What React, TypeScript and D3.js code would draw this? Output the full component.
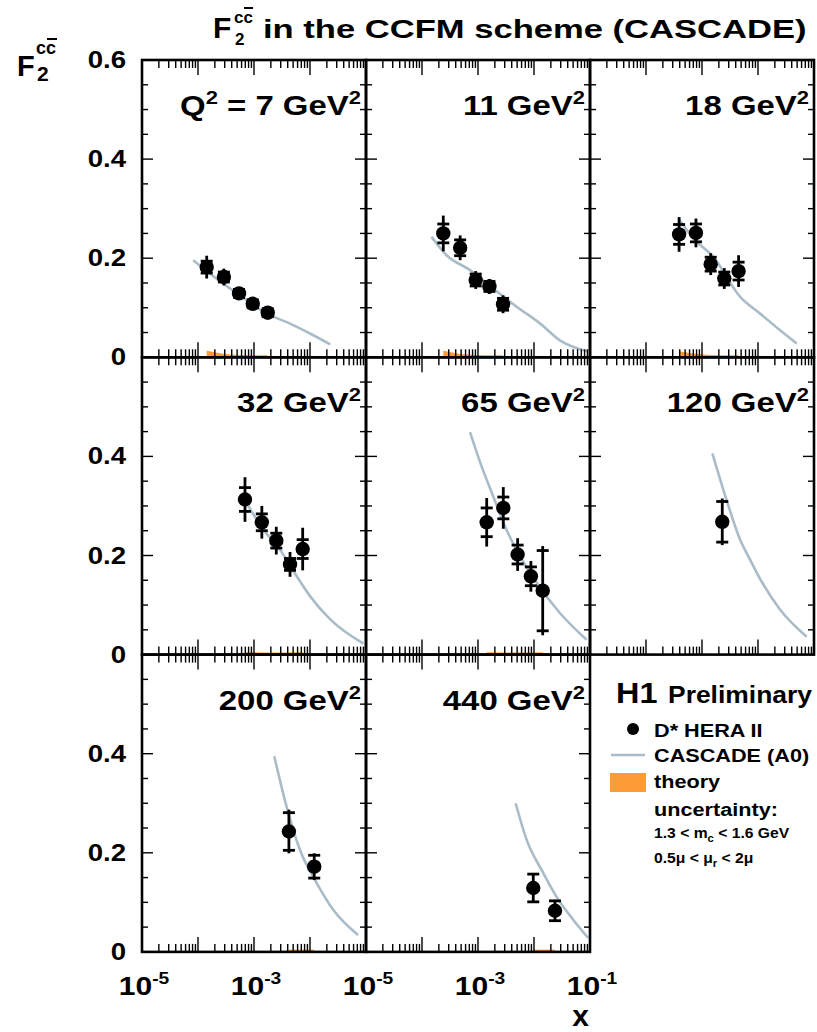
import * as React from "react";
import * as d3 from "d3";

// Q^2 values shown in the panel labels
const q2Labels = ["7", "11", "18", "32", "65", "120", "200", "440"];

// D* HERA II data points, one array per panel
const dataX: number[][] = [
  [1.43e-4, 2.9e-4, 5.4e-4, 9.5e-4, 1.76e-3],
  [2.4e-4, 4.8e-4, 9.1e-4, 1.6e-3, 2.8e-3],
  [3.9e-4, 7.8e-4, 1.43e-3, 2.5e-3, 4.5e-3],
  [6.9e-4, 1.38e-3, 2.5e-3, 4.4e-3, 7.4e-3],
  [1.43e-3, 2.83e-3, 5.1e-3, 8.8e-3, 1.43e-2],
  [2.3e-3],
  [4.2e-3, 1.19e-2],
  [9.7e-3, 2.37e-2],
];
const dataY: number[][] = [
  [0.182, 0.162, 0.129, 0.108, 0.09],
  [0.25, 0.221, 0.156, 0.143, 0.107],
  [0.248, 0.251, 0.188, 0.159, 0.174],
  [0.313, 0.267, 0.23, 0.182, 0.213],
  [0.267, 0.296, 0.202, 0.158, 0.129],
  [0.268],
  [0.243, 0.172],
  [0.129, 0.083],
];
const dataStat: number[][] = [
  [0.012, 0.01, 0.008, 0.008, 0.008],
  [0.019, 0.016, 0.012, 0.01, 0.012],
  [0.02, 0.018, 0.014, 0.013, 0.018],
  [0.024, 0.017, 0.015, 0.012, 0.019],
  [0.029, 0.022, 0.019, 0.019, 0.081],
  [0.041],
  [0.038, 0.023],
  [0.028, 0.02],
];
const dataTot: number[][] = [
  [0.023, 0.017, 0.012, 0.011, 0.011],
  [0.036, 0.025, 0.018, 0.015, 0.018],
  [0.035, 0.029, 0.022, 0.021, 0.032],
  [0.045, 0.033, 0.028, 0.025, 0.043],
  [0.049, 0.042, 0.033, 0.031, 0.09],
  [0.047],
  [0.044, 0.027],
  [0.03, 0.022],
];

// CASCADE (A0) prediction
const curveX: number[][] = [
  [8.2e-5, 2.8e-4, 5.6e-4, 1.7e-3, 4.4e-3, 1.0e-2, 2.3e-2],
  [1.48e-4, 2.75e-4, 7.2e-4, 1.86e-3, 4.9e-3, 1.29e-2, 2.9e-2, 8.9e-2],
  [3.8e-4, 7.0e-4, 1.58e-3, 4.8e-3, 1.1e-2, 2.45e-2, 4.9e-2],
  [7.9e-4, 1.46e-3, 2.9e-3, 5.8e-3, 1.0e-2, 2.3e-2, 9.0e-2],
  [7.2e-4, 1.1e-3, 1.86e-3, 3.2e-3, 5.6e-3, 1.12e-2, 2.9e-2, 8.7e-2],
  [1.53e-3, 2.4e-3, 4.8e-3, 7.2e-3, 1.1e-2, 2.47e-2, 7.4e-2],
  [2.3e-3, 3.8e-3, 6.6e-3, 1.32e-2, 2.6e-2, 7.2e-2],
  [4.7e-3, 7.4e-3, 1.47e-2, 2.5e-2, 5.0e-2, 9.3e-2],
];
const curveY: number[][] = [
  [0.196, 0.149, 0.125, 0.088, 0.068, 0.048, 0.026],
  [0.243, 0.206, 0.176, 0.139, 0.102, 0.068, 0.034, 0.012],
  [0.28, 0.24, 0.203, 0.122, 0.088, 0.055, 0.028],
  [0.3, 0.253, 0.212, 0.158, 0.118, 0.071, 0.022],
  [0.449, 0.387, 0.32, 0.253, 0.199, 0.145, 0.084, 0.03],
  [0.406, 0.333, 0.232, 0.192, 0.152, 0.091, 0.036],
  [0.395, 0.294, 0.206, 0.139, 0.085, 0.034],
  [0.3, 0.226, 0.159, 0.112, 0.065, 0.028],
];

// theory uncertainty band (upper edge, at the data x values)
const bandHi: number[][] = [
  [0.013, 0.0065, 0.0045, 0.004, 0.004],
  [0.013, 0.0065, 0.0045, 0.004, 0.004],
  [0.012, 0.0065, 0.0045, 0.004, 0.004],
  [0.0055, 0.004, 0.004, 0.004, 0.0055],
  [0.0045, 0.004, 0.004, 0.004, 0.0045],
  [0.0045],
  [0.0045, 0.0045],
  [0.0045, 0.0045],
];

const yTickLabels = ["0", "0.2", "0.4", "0.6"];
const xTickExps = ["-5", "-3", "-1"];

const FONT = "'Liberation Sans', Arial, Helvetica, sans-serif";
const LEFT = 142;
const TOP = 60;
const PW = 224;
const PH = 297.3;
const SX = 1.2;
const CURVE = "#a9bcc8";
const ORANGE = "#fd9b35";

const xScale = d3.scaleLog().domain([1e-5, 1e-1]).range([0, PW]);
const yScale = d3.scaleLinear().domain([0, 0.6]).range([PH, 0]);

const decades = [1e-5, 1e-4, 1e-3, 1e-2, 1e-1];
const minorX: number[] = [];
for (let e = -5; e <= -2; e++) for (let k = 2; k <= 9; k++) minorX.push(k * Math.pow(10, e));
const yTicks = d3.range(1, 12).map((i) => i * 0.05);

function Panel({ i }: { i: number }) {
  const col = i % 3;
  const row = Math.floor(i / 3);
  const x0 = LEFT + col * PW;
  const y0 = TOP + row * PH;
  const line = d3
    .line<number>()
    .x((_, k) => xScale(curveX[i][k]))
    .y((d) => yScale(d))
    .curve(d3.curveMonotoneX);
  const area = d3
    .area<number>()
    .x((_, k) => xScale(dataX[i][k]))
    .y0(yScale(0))
    .y1((d) => yScale(d));
  const lbl = q2Labels[i];
  return (
    <g transform={`translate(${x0},${y0})`}>
      <path d={area(bandHi[i]) || ""} fill={ORANGE} />
      <path d={line(curveY[i]) || ""} fill="none" stroke={CURVE} strokeWidth={2.6} />
      {dataY[i].map((v, k) => {
        const cx = xScale(dataX[i][k]);
        return (
          <g key={k} stroke="#000" strokeWidth={2.8}>
            <line x1={cx} x2={cx} y1={yScale(v - dataTot[i][k])} y2={yScale(v + dataTot[i][k])} />
            <line x1={cx - 6} x2={cx + 6} y1={yScale(v - dataStat[i][k])} y2={yScale(v - dataStat[i][k])} />
            <line x1={cx - 6} x2={cx + 6} y1={yScale(v + dataStat[i][k])} y2={yScale(v + dataStat[i][k])} />
            <circle cx={cx} cy={yScale(v)} r={7.2} fill="#000" stroke="none" />
          </g>
        );
      })}
      <g stroke="#000" strokeWidth={1.4}>
        {decades.slice(1, 4).map((d) => (
          <g key={d}>
            <line x1={xScale(d)} x2={xScale(d)} y1={PH} y2={PH - 15} />
            <line x1={xScale(d)} x2={xScale(d)} y1={0} y2={15} />
          </g>
        ))}
        {minorX.map((d) => (
          <g key={d}>
            <line x1={xScale(d)} x2={xScale(d)} y1={PH} y2={PH - 8} />
            <line x1={xScale(d)} x2={xScale(d)} y1={0} y2={8} />
          </g>
        ))}
        {yTicks.map((t) => {
          const len = Math.abs(t / 0.2 - Math.round(t / 0.2)) < 1e-6 ? 11 : 6;
          return (
            <g key={t}>
              <line x1={0} x2={len} y1={yScale(t)} y2={yScale(t)} />
              <line x1={PW} x2={PW - len} y1={yScale(t)} y2={yScale(t)} />
            </g>
          );
        })}
      </g>
      <rect x={0} y={0} width={PW} height={PH} fill="none" stroke="#000" strokeWidth={2.6} />
      <g transform={`translate(${PW - 5},${55}) scale(1.22,1)`}>
        <text textAnchor="end" fontSize={27} fontWeight="bold" fontFamily={FONT}>
          {i === 0 ? "Q" : ""}
          {i === 0 ? (
            <tspan dy={-11} fontSize={18}>
              2
            </tspan>
          ) : null}
          <tspan dy={i === 0 ? 11 : 0}>{i === 0 ? ` = ${lbl} GeV` : `${lbl} GeV`}</tspan>
          <tspan dy={-11} fontSize={18}>
            2
          </tspan>
        </text>
      </g>
    </g>
  );
}

export default function App() {
  const rowLabels = [
    [3, 2, 1, 0],
    [2, 1, 0],
    [2, 1, 0],
  ];
  return (
    <svg
      width={817}
      height={1032}
      style={{ position: "absolute", left: 0, top: 0, background: "#fff" }}
      fontFamily={FONT}
      fontWeight="bold"
    >
      {/* title */}
      <text x={213} y={38} fontSize={30}>
        F
      </text>
      <text x={234} y={23} fontSize={17}>
        cc
      </text>
      <line x1={244} x2={253} y1={8} y2={8} stroke="#000" strokeWidth={2} />
      <text x={235} y={45} fontSize={17}>
        2
      </text>
      <g transform={`translate(263,38) scale(1.33,1)`}>
        <text fontSize={26}>in the CCFM scheme (CASCADE)</text>
      </g>

      {/* y axis title */}
      <text x={17} y={76} fontSize={29}>
        F
      </text>
      <text x={36} y={54} fontSize={18}>
        cc
      </text>
      <line x1={47} x2={57} y1={39} y2={39} stroke="#000" strokeWidth={2} />
      <text x={37} y={81} fontSize={21}>
        2
      </text>

      {q2Labels.map((_, i) => (
        <Panel key={i} i={i} />
      ))}

      {/* y tick labels */}
      {rowLabels.map((idxs, r) =>
        idxs.map((k) => (
          <g key={`${r}-${k}`} transform={`translate(126,${TOP + r * PH + yScale(k * 0.2) + 8}) scale(${SX},1)`}>
            <text textAnchor="end" fontSize={23}>
              {yTickLabels[k]}
            </text>
          </g>
        ))
      )}

      {/* x tick labels */}
      {[0, 1].map((c) =>
        [1e-5, 1e-3, 1e-1].map((d, j) =>
          c === 0 && j === 2 ? null : (
            <g key={`${c}-${j}`} transform={`translate(${LEFT + c * PW + xScale(d) + 2},995) scale(${SX},1)`}>
              <text textAnchor="middle" fontSize={25}>
                10
                <tspan dy={-11} fontSize={16}>
                  {xTickExps[j]}
                </tspan>
              </text>
            </g>
          )
        )
      )}
      <text x={589} y={1026} textAnchor="end" fontSize={30}>
        x
      </text>

      {/* legend */}
      <g transform="translate(616,703) scale(1.08,1)">
        <text fontSize={30}>H1</text>
      </g>
      <g transform="translate(668,703) scale(1.15,1)">
        <text fontSize={23}>Preliminary</text>
      </g>
      <circle cx={633} cy={729} r={6} fill="#000" />
      <line x1={611} x2={645} y1={755} y2={755} stroke={CURVE} strokeWidth={2.6} />
      <rect x={610} y={773} width={36} height={19} fill={ORANGE} />
      {[
        ["D* HERA II", 737],
        ["CASCADE (A0)", 762],
        ["theory", 788],
        ["uncertainty:", 816],
      ].map(([t, y]) => (
        <g key={t as string} transform={`translate(654,${y}) scale(1.14,1)`}>
          <text fontSize={19}>{t}</text>
        </g>
      ))}
      <g transform="translate(654,838) scale(1.12,1)">
        <text fontSize={14}>
          1.3 &lt; m
          <tspan dy={4} fontSize={10}>
            c
          </tspan>
          <tspan dy={-4}> &lt; 1.6 GeV</tspan>
        </text>
      </g>
      <g transform="translate(654,863) scale(1.12,1)">
        <text fontSize={14}>
          0.5μ &lt; μ
          <tspan dy={4} fontSize={10}>
            r
          </tspan>
          <tspan dy={-4}> &lt; 2μ</tspan>
        </text>
      </g>
    </svg>
  );
}
